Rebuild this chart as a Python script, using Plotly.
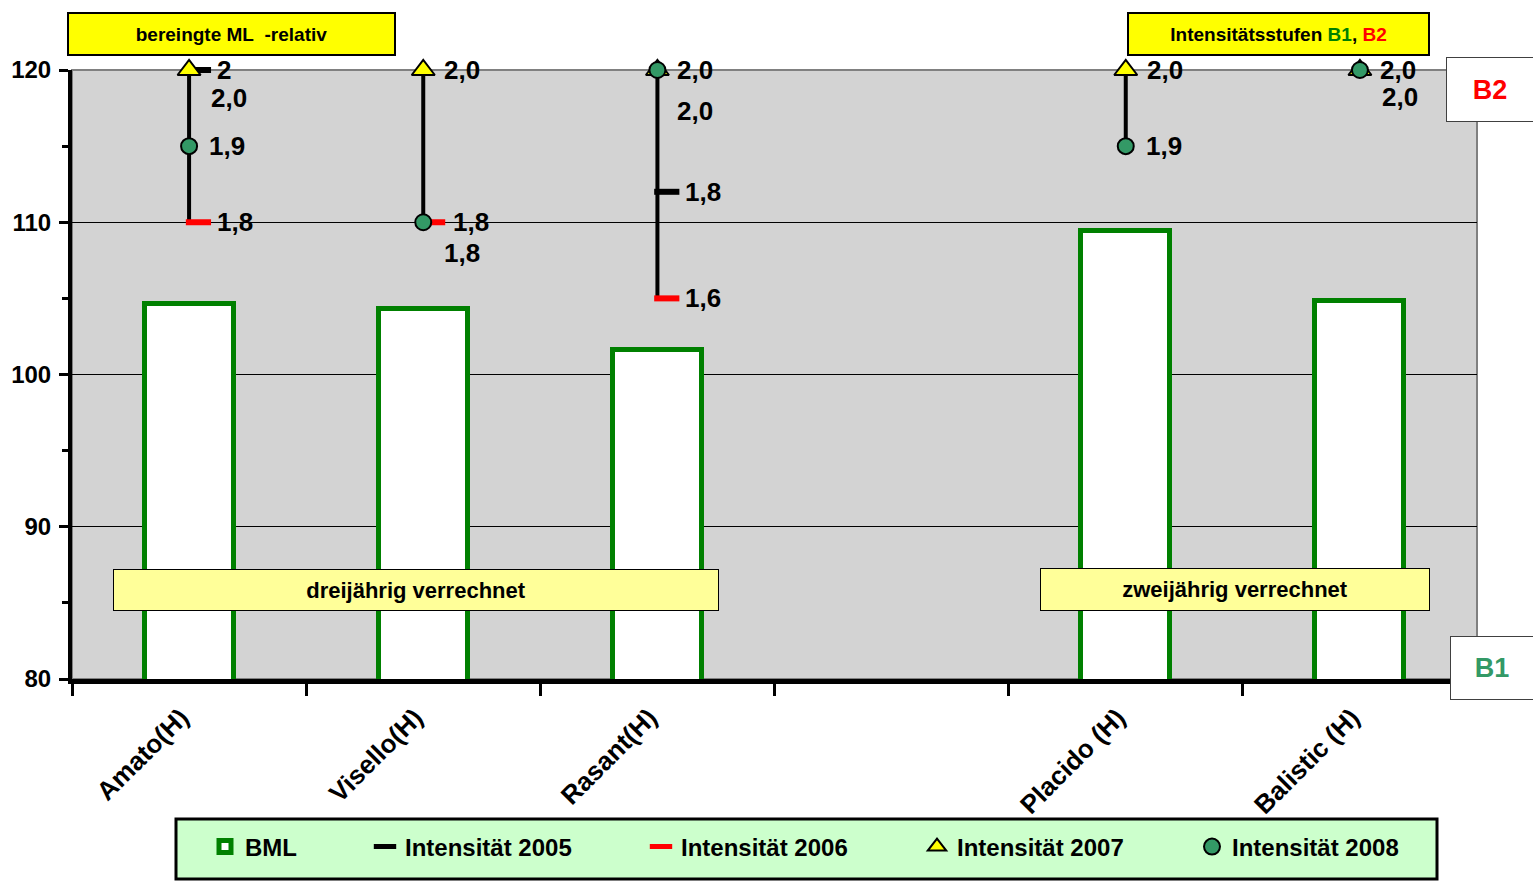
import plotly.graph_objects as go

# ---------------- data ----------------
categories = ["Amato(H)", "Visello(H)", "Rasant(H)", "", "Placido (H)", "Balistic (H)"]
bml = [104.6, 104.3, 101.6, None, 109.4, 104.8]

# intensity on the B1 (=1) .. B2 (=2) scale
int_2005 = [2.0, None, 1.8, None, None, None]
int_2006 = [1.75, 1.75, 1.625, None, None, None]
int_2007 = [2.0, 2.0, 2.0, None, 2.0, 2.0]
int_2008 = [1.875, 1.75, 2.0, None, 1.875, 2.0]

lab_2005 = ["2", None, "1,8", None, None, None]
lab_2006 = ["1,8", "1,8", "1,6", None, None, None]
lab_2007 = ["2,0", "2,0", "2,0", None, "2,0", "2,0"]
lab_2008 = ["1,9", "1,8", "2,0", None, "1,9", "2,0"]

y_ticks = [80, 90, 100, 110, 120]

# ---------------- style ----------------
FONT = "Liberation Sans Narrow, Arial Narrow, Liberation Sans, Arial, sans-serif"
WIDE = "Liberation Sans, Arial, sans-serif"
W, H = 1533, 881
ML, MR, MT, MB = 72, 56, 70, 202
PW, PH = W - ML - MR, H - MT - MB


def px(xp):
    return (xp - ML) / PW


def py(yp):
    return (H - MB - yp) / PH


xpos = list(range(len(categories)))
dash_off = 0.04

fig = go.Figure()

fig.add_trace(go.Bar(
    x=xpos, y=bml, width=0.38, name="BML", legend="legend",
    marker=dict(color="white", line=dict(color="#008000", width=5)),
    hoverinfo="skip",
))

# high-low connector lines
hx, hy = [], []
for i in xpos:
    vals = [s[i] for s in (int_2005, int_2006, int_2007, int_2008) if s[i] is not None]
    if vals and max(vals) > min(vals):
        hx += [i, i, None]
        hy += [min(vals), max(vals), None]
fig.add_trace(go.Scatter(x=hx, y=hy, yaxis="y2", mode="lines",
                         line=dict(color="black", width=4), showlegend=False,
                         hoverinfo="skip", cliponaxis=False))

series = [
    ("Intensität 2005", int_2005, lab_2005,
     dict(symbol="line-ew", size=18, color="black", line=dict(color="black", width=6)),
     dash_off, "legend2"),
    ("Intensität 2006", int_2006, lab_2006,
     dict(symbol="line-ew", size=18, color="red", line=dict(color="#FF0000", width=6)),
     dash_off, "legend3"),
    ("Intensität 2007", int_2007, lab_2007,
     dict(symbol="triangle-up", size=20, color="#FFFF00", line=dict(color="black", width=2)),
     0, "legend4"),
    ("Intensität 2008", int_2008, lab_2008,
     dict(symbol="circle", size=16, color="#339966", line=dict(color="black", width=2)),
     0, "legend5"),
]

for name, vals, labs, mk, off, lg in series:
    fig.add_trace(go.Scatter(
        x=[i + off for i in xpos], y=vals, yaxis="y2", mode="markers",
        marker=mk, name=name, legend=lg, hoverinfo="skip", cliponaxis=False,
    ))

# label placement (style): default right; some below
label_shift = {
    "Intensität 2005": (26, 0),
    "Intensität 2006": (26, 0),
    "Intensität 2007": (19, 0),
    "Intensität 2008": (18, 0),
}
special = {
    ("Intensität 2007", 0): (20, -28),
    ("Intensität 2008", 1): (19, -31),
    ("Intensität 2007", 2): (18, -41),
    ("Intensität 2007", 5): (20, -27),
    ("Intensität 2006", 1): (28, 0),
}

annotations = []
for name, vals, labs, mk, off, lg in series:
    for i in xpos:
        if vals[i] is None or labs[i] is None:
            continue
        xs, ys = special.get((name, i), label_shift[name])
        annotations.append(dict(
            x=i, y=vals[i], xref="x", yref="y2", text=labs[i], showarrow=False,
            xanchor="left", yanchor="middle", xshift=xs, yshift=ys,
            font=dict(family=FONT, size=26, color="black", weight="bold"),
        ))


def box(text, x0, y0, x1, y1, fill, size, family=FONT, color="black", bw=2, bc="black"):
    return dict(
        x=px((x0 + x1) / 2), y=py((y0 + y1) / 2), xref="paper", yref="paper",
        text=text, showarrow=False, xanchor="center", yanchor="middle",
        width=x1 - x0 - 2 * bw, height=y1 - y0 - 2 * bw, borderpad=0,
        bgcolor=fill, bordercolor=bc, borderwidth=bw,
        font=dict(family=family, size=size, color=color, weight="bold"),
    )


annotations += [
    box("bereingte ML&nbsp; -relativ", 67, 12, 396, 56, "#FFFF00", 19),
    box("Intensitätsstufen <span style='color:#008000'>B1</span>, "
        "<span style='color:#FF0000'>B2</span>", 1127, 12, 1430, 56, "#FFFF00", 19),
    box("dreijährig verrechnet", 113, 569, 719, 611, "#FFFF99", 22, bw=1),
    box("zweijährig verrechnet", 1040, 568, 1430, 611, "#FFFF99", 22, bw=1),
    box("B2", 1446, 57, 1534, 122, "white", 27, family=WIDE, color="#FF0000", bw=1, bc="#404040"),
    box("B1", 1450, 636, 1534, 700, "white", 27, family=WIDE, color="#339966", bw=1, bc="#404040"),
]

shapes = [
    # plot-area border (gray)
    dict(type="rect", xref="paper", yref="paper", x0=0, x1=1, y0=0, y1=1,
         line=dict(color="#808080", width=2), layer="below"),
    # legend frame
    dict(type="rect", xref="paper", yref="paper",
         x0=px(176), x1=px(1437), y0=py(879), y1=py(819),
         line=dict(color="black", width=3), fillcolor="#CCFFCC", layer="below"),
]


def legend_at(text_left):
    return dict(
        orientation="h", x=px(text_left - 40), xanchor="left", y=py(847), yanchor="middle",
        bgcolor="rgba(0,0,0,0)", borderwidth=0,
        font=dict(family=FONT, size=24, color="black", weight="bold"),
    )


fig.update_layout(
    width=W, height=H, autosize=False,
    margin=dict(l=ML, r=MR, t=MT, b=MB),
    paper_bgcolor="white", plot_bgcolor="#D3D3D3",
    bargap=0, showlegend=True,
    font=dict(family=FONT, size=24, color="black", weight="bold"),
    xaxis=dict(
        range=[-0.5, len(categories) - 0.5], tickmode="array", tickvals=xpos,
        ticktext=categories, tickangle=-45, ticks="", showgrid=False,
        showline=True, linecolor="black", linewidth=5, zeroline=False,
        ticklabelstandoff=8, ticklabelshift=-8,
        tickfont=dict(family=FONT, size=26, color="black", weight="bold"),
        minor=dict(tick0=-0.5, dtick=1, ticks="outside", ticklen=12, tickwidth=3,
                   tickcolor="black", showgrid=False),
    ),
    yaxis=dict(
        range=[80, 120], tickvals=y_ticks, ticks="outside", ticklen=9, tickwidth=3,
        tickcolor="black", showgrid=True, gridcolor="black", gridwidth=1,
        showline=True, linecolor="black", linewidth=4, zeroline=False,
        ticklabelstandoff=3,
        tickfont=dict(family=FONT, size=24, color="black", weight="bold"),
        minor=dict(dtick=5, ticks="outside", ticklen=6, tickwidth=3, tickcolor="black",
                   showgrid=False),
    ),
    yaxis2=dict(range=[1, 2], overlaying="y", side="right", visible=False),
    legend=legend_at(245),
    legend2=legend_at(405),
    legend3=legend_at(681),
    legend4=legend_at(957),
    legend5=legend_at(1232),
    annotations=annotations, shapes=shapes,
)

fig.write_html("out.html")
